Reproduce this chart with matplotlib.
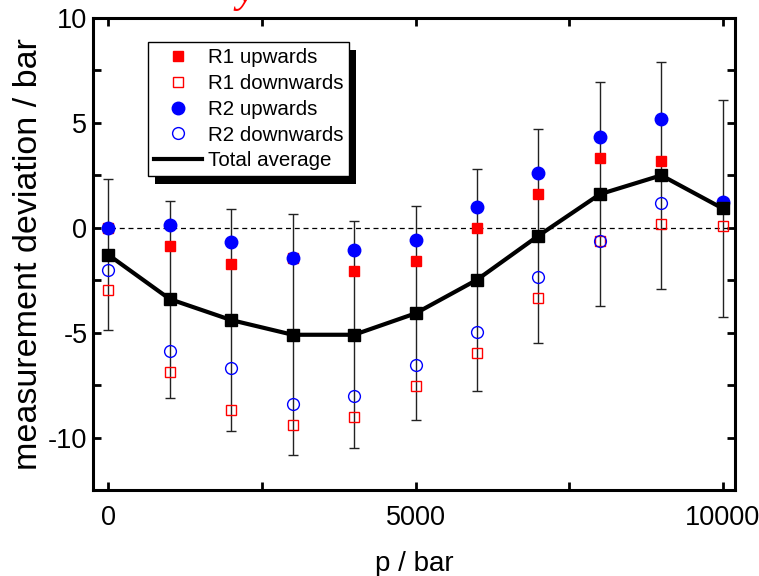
import matplotlib
matplotlib.use("Agg")
import matplotlib.pyplot as plt
from matplotlib.patches import Rectangle
from matplotlib.lines import Line2D
from matplotlib.ticker import MultipleLocator

# ---- data ----
pressure = [0, 1000, 2000, 3000, 4000, 5000, 6000, 7000, 8000, 9000, 10000]
r1_up = [0.0, -0.89, -1.71, -1.44, -2.05, -1.59, 0.0, 1.6, 3.35, 3.16, 1.2]
r1_down = [-2.97, -6.89, -8.67, -9.4, -9.02, -7.56, -5.98, -3.35, -0.65, 0.17, 0.1]
r2_up = [0.0, 0.11, -0.7, -1.42, -1.05, -0.57, 0.98, 2.63, 4.35, 5.17, 1.25]
r2_down = [-2.0, -5.89, -6.7, -8.4, -8.03, -6.56, -4.98, -2.35, -0.62, 1.19, 1.13]
total_avg = [-1.29, -3.4, -4.4, -5.1, -5.1, -4.08, -2.48, -0.38, 1.6, 2.5, 0.92]
total_err = [3.6, 4.7, 5.3, 5.75, 5.4, 5.1, 5.3, 5.1, 5.35, 5.4, 5.15]

x_ticks = [0, 5000, 10000]
y_ticks = [-10, -5, 0, 5, 10]

plt.rcParams['font.family'] = ['Liberation Sans', 'DejaVu Sans']
plt.rcParams['axes.unicode_minus'] = False

W, H = 759, 576
fig = plt.figure(figsize=(W / 100, H / 100), dpi=100)
ax = fig.add_axes([93 / W, 1 - 490 / H, (735 - 93) / W, (490 - 18) / H])

ax.axhline(0, color='black', lw=0.9, ls=(0, (4, 3)), zorder=1)

h1, = ax.plot(pressure, r1_up, ls='none', marker='s', ms=7.5, mfc='red', mec='red',
              label='R1 upwards', zorder=3)
h2, = ax.plot(pressure, r1_down, ls='none', marker='s', ms=7.5, mfc='none', mec='red',
              mew=1.0, label='R1 downwards', zorder=3)
h3, = ax.plot(pressure, r2_up, ls='none', marker='o', ms=9, mfc='blue', mec='blue',
              label='R2 upwards', zorder=3)
h4, = ax.plot(pressure, r2_down, ls='none', marker='o', ms=8.5, mfc='none', mec='blue',
              mew=1.0, label='R2 downwards', zorder=3)
ax.errorbar(pressure, total_avg, yerr=total_err, fmt='none', ecolor='#222222',
            elinewidth=1.0, capsize=3.5, capthick=1.0, zorder=2)
ax.plot(pressure, total_avg, color='black', lw=3, marker='s', ms=8.5, zorder=4)
h5 = Line2D([], [], color='black', lw=3)

ax.set_xlim(-250, 10200)
ax.set_ylim(-12.5, 10)
ax.set_xticks(x_ticks)
ax.set_yticks(y_ticks)
ax.xaxis.set_minor_locator(MultipleLocator(2500))
ax.yaxis.set_minor_locator(MultipleLocator(2.5))
ax.tick_params(which='both', direction='in', top=True, right=True, width=2,
               length=6)
ax.tick_params(axis='x', labelsize=19.5, pad=11)
ax.tick_params(axis='y', labelsize=19.5, pad=4)
for s in ax.spines.values():
    s.set_linewidth(2.2)

ax.set_xlabel('p / bar', fontsize=20, labelpad=14)
ax.set_ylabel('measurement deviation / bar', fontsize=24.5, labelpad=3)

leg = ax.legend([h1, h2, h3, h4, h5],
                ['R1 upwards', 'R1 downwards', 'R2 upwards', 'R2 downwards',
                 'Total average'],
                loc='upper left',
                bbox_to_anchor=(148 / W, 1 - 42 / H),
                bbox_transform=fig.transFigure, borderaxespad=0,
                fontsize=14.8, frameon=True, fancybox=False, edgecolor='black',
                framealpha=1, handlelength=2.35, handletextpad=0.25,
                labelspacing=0.33, borderpad=0.3)
leg.get_frame().set_linewidth(1.0)
leg.set_zorder(6)

fig.canvas.draw()
bb = leg.get_window_extent().transformed(fig.transFigure.inverted())
shadow = Rectangle((bb.x0 + 7 / W, bb.y0 - 8 / H), bb.width, bb.height,
                   transform=fig.transFigure, facecolor='black',
                   edgecolor='none', zorder=5.5)
ax.add_artist(shadow)

fig.text(236 / W, 1 - 2 / H, 'y', color='red', fontstyle='italic',
         family='Liberation Serif', fontsize=30, va='baseline', ha='left')

fig.savefig('out.png', dpi=100)
